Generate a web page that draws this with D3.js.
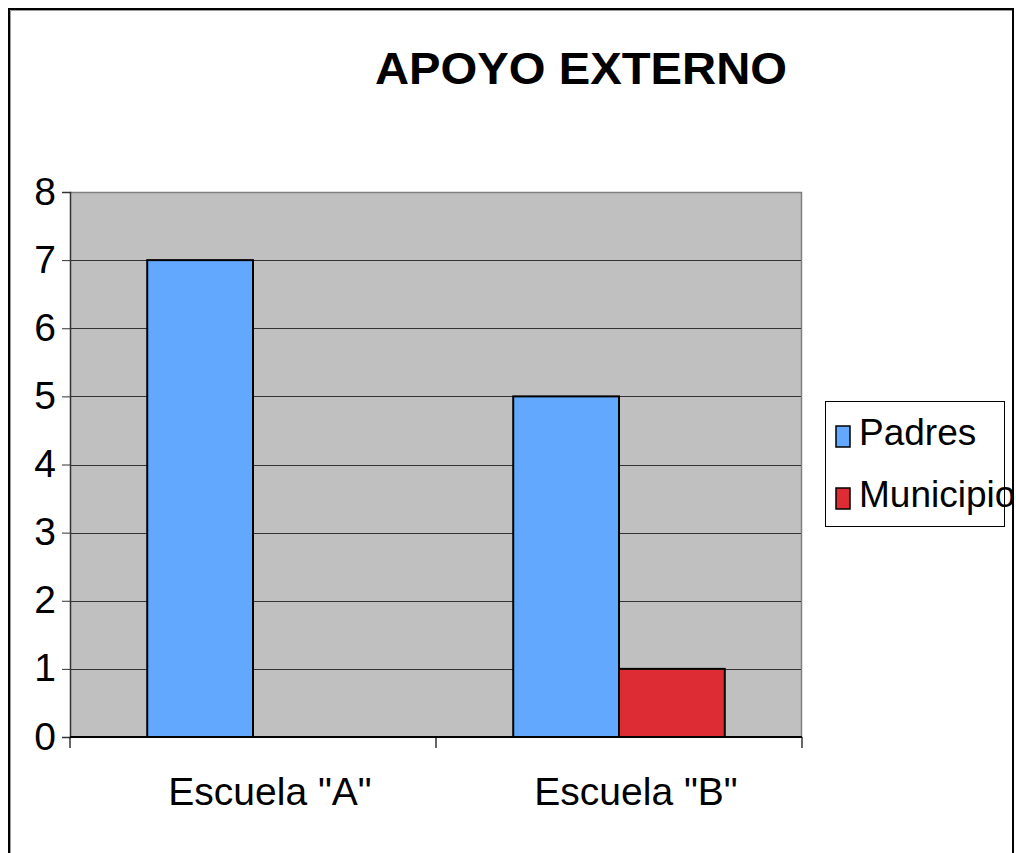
<!DOCTYPE html>
<html>
<head>
<meta charset="utf-8">
<script src="https://cdn.jsdelivr.net/npm/d3@7"></script>
<style>
  html, body { margin: 0; padding: 0; background: #fff; }
  svg { display: block; font-family: Arial, "Liberation Sans", sans-serif; }
</style>
</head>
<body>
<svg id="chart" width="1016" height="853"></svg>
<script>
// Chart data
const title = "APOYO EXTERNO";
const categories = ['Escuela "A"', 'Escuela "B"'];
const seriesNames = ["Padres", "Municipio"];
const padres = [7, 5];
const municipio = [0, 1];
const yTicks = [0, 1, 2, 3, 4, 5, 6, 7, 8];
const colors = ["#63A8FF", "#DD2C33"];

const svg = d3.select("#chart");

// Outer frame
svg.append("rect").attr("x", 9).attr("y", 9).attr("width", 1004).attr("height", 860)
  .attr("fill", "#fff").attr("stroke", "#000").attr("stroke-width", 2);
svg.append("path").attr("d", "M10.5,870V10.5H1012").attr("fill", "none")
  .attr("stroke", "#9a9a9a").attr("stroke-width", 1);

// Plot area
const plot = { left: 70, top: 192, right: 802, bottom: 737 };

const x0 = d3.scaleBand().domain(categories).range([plot.left, plot.right]).paddingInner(0).paddingOuter(0);
const x1 = d3.scaleBand().domain(seriesNames).range([0, x0.bandwidth()]).paddingInner(0).paddingOuter(0.73);
const y = d3.scaleLinear().domain([0, 8]).range([plot.bottom, plot.top]);

svg.append("rect")
  .attr("x", plot.left).attr("y", plot.top)
  .attr("width", plot.right - plot.left).attr("height", plot.bottom - plot.top)
  .attr("fill", "#C0C0C0");
svg.append("path")
  .attr("d", `M${plot.left},${plot.top + 0.5}H${plot.right - 0.5}V${plot.bottom}`)
  .attr("fill", "none").attr("stroke", "#808080").attr("stroke-width", 1.5);

// Gridlines
svg.append("g").selectAll("line").data(yTicks.filter(d => d > 0 && d < 8)).join("line")
  .attr("x1", plot.left).attr("x2", plot.right - 1)
  .attr("y1", d => Math.round(y(d)) + 0.5).attr("y2", d => Math.round(y(d)) + 0.5)
  .attr("stroke", "#333").attr("stroke-width", 1);

// Bars
const rows = categories.map((c, i) => ({ cat: c, vals: [padres[i], municipio[i]] }));
const groups = svg.append("g").selectAll("g").data(rows).join("g")
  .attr("transform", d => `translate(${x0(d.cat)},0)`);
groups.selectAll("rect")
  .data(d => d.vals.map((v, j) => ({ name: seriesNames[j], v, j })).filter(e => e.v > 0))
  .join("rect")
  .attr("x", e => x1(e.name)).attr("width", x1.bandwidth())
  .attr("y", e => y(e.v)).attr("height", e => y(0) - y(e.v))
  .attr("fill", e => colors[e.j]).attr("stroke", "#000").attr("stroke-width", 2);

// Y axis
const yAxis = d3.axisLeft(y).tickValues(yTicks).tickSize(8).tickPadding(6).tickFormat(d3.format("d"));
const gy = svg.append("g").attr("transform", `translate(${plot.left},0)`).call(yAxis);
gy.select(".domain").attr("stroke", "#333").attr("stroke-width", 1.5);
gy.selectAll(".tick line").attr("stroke", "#333");
gy.selectAll(".tick text").attr("font-size", 39).attr("fill", "#000")
  .attr("font-family", "Arial, 'Liberation Sans', sans-serif").attr("dy", "0.31em");

// X axis
const gx = svg.append("g").attr("transform", `translate(0,${plot.bottom})`);
gx.append("line").attr("x1", plot.left).attr("x2", plot.right).attr("y1", 0).attr("y2", 0)
  .attr("stroke", "#000").attr("stroke-width", 2);
const xEdges = [plot.left].concat(categories.map(c => x0(c) + x0.bandwidth()));
gx.selectAll("line.tk").data(xEdges).join("line").attr("class", "tk")
  .attr("x1", d => d).attr("x2", d => d).attr("y1", 0).attr("y2", 11)
  .attr("stroke", "#000").attr("stroke-width", 1.2);
gx.selectAll("text").data(categories).join("text")
  .attr("x", d => x0(d) + x0.bandwidth() / 2 + 17).attr("y", 68)
  .attr("text-anchor", "middle").attr("font-size", 39).attr("fill", "#000")
  .text(d => d);

// Title
svg.append("text").attr("x", 581).attr("y", 84).attr("text-anchor", "middle")
  .attr("font-size", 44).attr("font-weight", "bold").attr("fill", "#000")
  .attr("textLength", 412).attr("lengthAdjust", "spacingAndGlyphs")
  .text(title);

// Legend
const legend = svg.append("g");
legend.append("rect").attr("x", 825.5).attr("y", 401.5).attr("width", 179).attr("height", 125)
  .attr("fill", "#fff").attr("stroke", "#000").attr("stroke-width", 1);
const items = legend.selectAll("g").data(seriesNames).join("g")
  .attr("transform", (d, i) => `translate(0,${i * 62})`);
items.append("rect").attr("x", 836).attr("y", 426).attr("width", 14).attr("height", 21)
  .attr("fill", (d, i) => colors[i]).attr("stroke", "#000").attr("stroke-width", 1.5);
items.append("text").attr("x", 859).attr("y", 445).attr("font-size", 37).attr("fill", "#000")
  .text(d => d);
</script>
</body>
</html>
